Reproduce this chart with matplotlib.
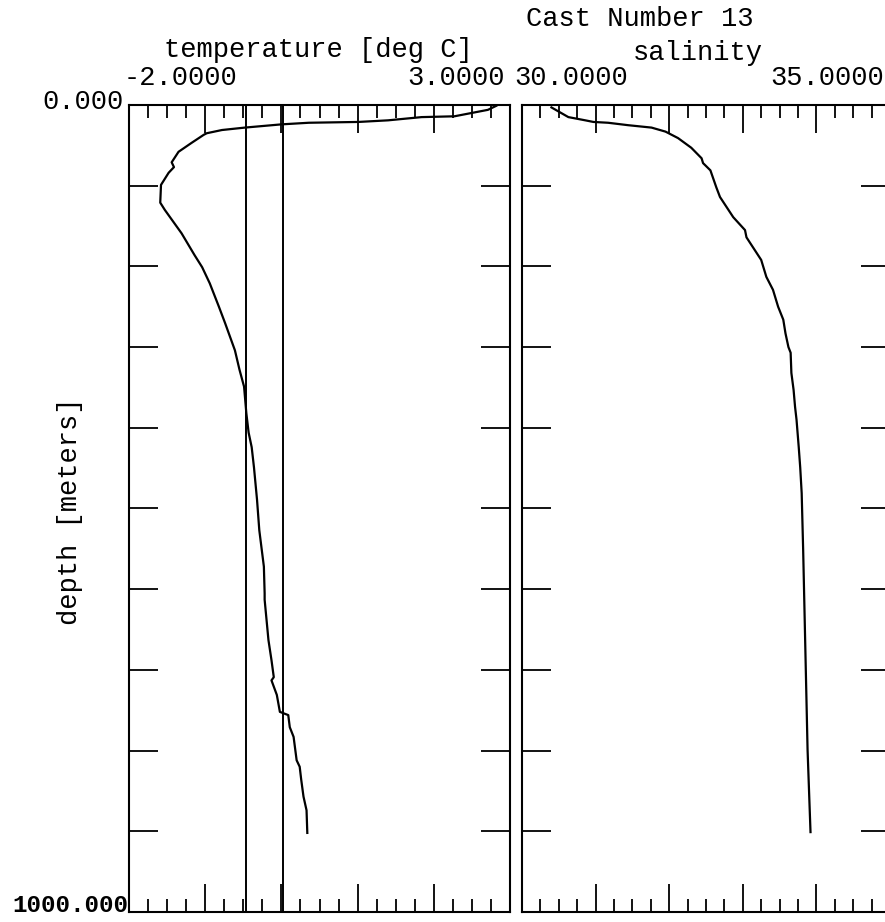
"""Cast 13 CTD profile: temperature and salinity against depth, old plotter style."""

import matplotlib
matplotlib.use("Agg")
import matplotlib.pyplot as plt
from matplotlib.ticker import MultipleLocator

W, H = 885, 922

# temperature profile (deg C)
temp_depth = [1, 6, 14, 15, 19, 21, 22, 24, 28, 31, 35, 37, 47, 58, 71, 77, 84,
              99, 121, 130, 159, 186, 201, 221, 250, 270, 304, 328, 349, 382,
              406, 424, 449, 489, 527, 572, 605, 613, 663, 688, 709, 713, 731,
              752, 756, 771, 783, 812, 820, 836, 857, 874, 902]
temp_value = [2.82, 2.71, 2.27, 1.84, 1.40, 1.01, 0.36, 0.00, -0.48, -0.78,
              -0.98, -1.02, -1.18, -1.35, -1.44, -1.41, -1.48, -1.58, -1.59,
              -1.53, -1.31, -1.14, -1.04, -0.94, -0.82, -0.74, -0.61, -0.55,
              -0.49, -0.46, -0.43, -0.39, -0.36, -0.32, -0.29, -0.23, -0.22,
              -0.22, -0.17, -0.13, -0.10, -0.13, -0.06, -0.02, 0.09, 0.11,
              0.16, 0.20, 0.24, 0.26, 0.29, 0.33, 0.34]
temp_ref_lines = [-0.47, 0.02]

# salinity profile
sal_depth = [3, 15, 19, 21, 22, 25, 28, 33, 41, 53, 66, 72, 81, 102, 114, 139,
             155, 164, 192, 213, 229, 250, 266, 283, 300, 307, 332, 353, 374,
             390, 424, 449, 481, 551, 675, 799, 901]
sal_value = [30.40, 30.63, 30.86, 30.97, 31.17, 31.44, 31.76, 31.95, 32.12,
             32.30, 32.44, 32.46, 32.56, 32.64, 32.69, 32.87, 33.03, 33.05,
             33.25, 33.32, 33.41, 33.48, 33.55, 33.58, 33.62, 33.65, 33.66,
             33.69, 33.71, 33.73, 33.76, 33.78, 33.80, 33.82, 33.85, 33.88,
             33.92]

depth_ticks = list(range(100, 1000, 100))

plt.rcParams["font.family"] = ["Liberation Mono", "DejaVu Sans Mono"]
FS = 19.5


def fx(x):
    return x / W


def fy(y):
    return 1 - y / H


def panel(rect_px, xlim):
    x0, y0, x1, y1 = rect_px
    ax = fig.add_axes([fx(x0), fy(y1), (x1 - x0) / W, (y1 - y0) / H])
    ax.set_xlim(*xlim)
    ax.set_ylim(1000, 0)
    ax.xaxis.set_major_locator(MultipleLocator(1))
    ax.xaxis.set_minor_locator(MultipleLocator(0.25))
    ax.set_yticks(depth_ticks)
    ax.tick_params(axis="x", which="both", direction="in", top=True, bottom=True,
                   labelbottom=False, labeltop=False, width=1.3, color="black")
    ax.tick_params(axis="x", which="major", length=20)
    ax.tick_params(axis="x", which="minor", length=9.5)
    ax.tick_params(axis="y", which="both", direction="in", left=True, right=True,
                   labelleft=False, length=21, width=1.3)
    for s in ax.spines.values():
        s.set_linewidth(1.5)
    return ax


fig = plt.figure(figsize=(W / 100, H / 100), dpi=100)

ax_t = panel((129, 105, 510, 912), (-2, 3))
for v in temp_ref_lines:
    ax_t.axvline(v, color="black", lw=1.4)
ax_t.plot(temp_value, temp_depth, color="black", lw=1.6)

ax_s = panel((522, 105, 890, 912), (30, 35))
ax_s.plot(sal_value, sal_depth, color="black", lw=1.6)

# titles and labels, placed like the original plotter output
fig.text(fx(640), fy(19), "Cast Number 13", ha="center", va="center", fontsize=FS)
fig.text(fx(318), fy(50), "temperature [deg C]", ha="center", va="center", fontsize=FS)
fig.text(fx(698), fy(53), "salinity", ha="center", va="center", fontsize=FS)

fig.text(fx(124), fy(78), "-2.0000", ha="left", va="center", fontsize=FS)
fig.text(fx(505), fy(78), "3.0000", ha="right", va="center", fontsize=FS)
fig.text(fx(514), fy(78), "30.0000", ha="left", va="center", fontsize=FS)
fig.text(fx(884), fy(78), "35.0000", ha="right", va="center", fontsize=FS)

fig.text(fx(124), fy(102), "0.000", ha="right", va="center", fontsize=FS)
fig.text(fx(128), fy(905), "1000.000", ha="right", va="center", fontsize=17.5,
         fontweight="bold")
fig.text(fx(70), fy(511), "depth [meters]", ha="center", va="center",
         rotation=90, fontsize=FS)

fig.savefig("out.png", dpi=100)
